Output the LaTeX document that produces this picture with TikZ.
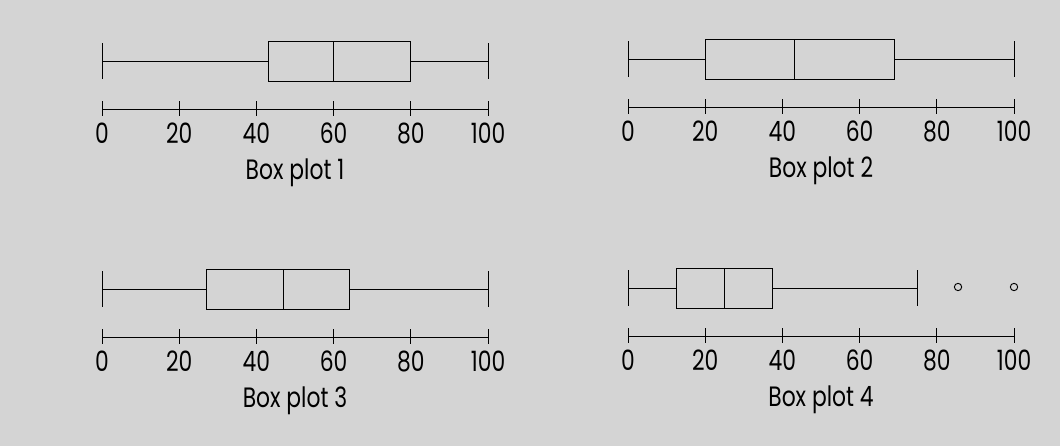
\documentclass[tikz,border=0pt]{standalone}
\usepackage{fontspec}
\newfontfamily\plotfont[FakeStretch=0.78]{Poppins}
\tikzset{l/.style={font=\plotfont\fontsize{21}{21}\selectfont, inner sep=0pt, anchor=base}}
\tikzset{w/.style={line width=0.7pt}}
\begin{document}
\begin{tikzpicture}[x=0.75pt,y=-0.75pt]
  \fill[black!17] (0,0) rectangle (1060,446);
  \foreach \px/\py/\lo/\qa/\qb/\qc/\hi/\n in {102/109/0/43/60/80/100/1, 628/107/0/20/43/69/100/2,
      102/337/0/27/47/64/100/3, 628/336/0/12.5/25/37.5/75/4}{
    \begin{scope}[shift={(\px,\py)}, xscale=3.86]
      % scale
      \draw[w] (0,0) -- (100,0);
      \foreach \t in {0,20,...,100}{
        \draw[w] (\t,-8) -- (\t,7);
        \node[l] (t\n-\t) at (\t,34) {\t};
      }
      \node[l] (lab\n) at (50,70) {Box plot \n};
      % box and whiskers
      \draw[w] (\qa,-68) rectangle (\qc,-28);
      \draw[w] (\qb,-68) -- (\qb,-28);
      \draw[w] (\lo,-48) -- (\qa,-48);
      \draw[w] (\qc,-48) -- (\hi,-48);
      \draw[w] (\lo,-66) -- (\lo,-30);
      \draw[w] (\hi,-66) -- (\hi,-30);
    \end{scope}
  }
  % outliers of plot 4
  \begin{scope}[shift={(628,336)}, xscale=3.86]
    \node[w, draw, circle, minimum size=5.5pt, inner sep=0pt] (out1) at (85.5,-49) {};
    \node[w, draw, circle, minimum size=5.5pt, inner sep=0pt] (out2) at (100,-49) {};
  \end{scope}
\end{tikzpicture}
\end{document}
